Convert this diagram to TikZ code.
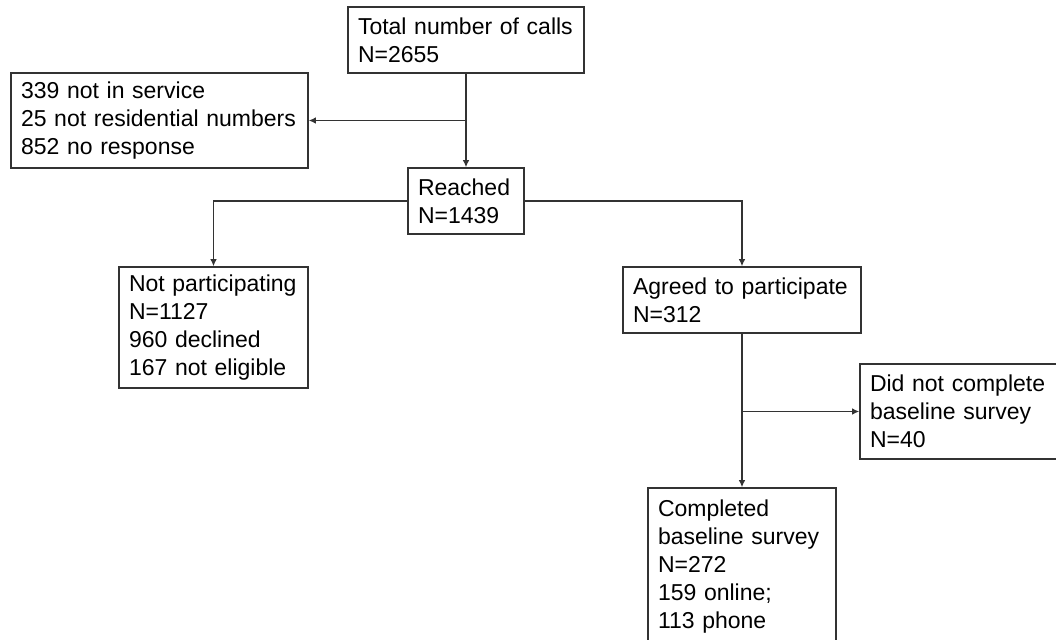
\documentclass[tikz,border=0pt]{standalone}
\usepackage{fontspec}
\setmainfont{Liberation Sans}
\usetikzlibrary{arrows.meta}
\definecolor{boxline}{HTML}{333333}

\begin{document}
\begin{tikzpicture}[x=0.5pt, y=-0.5pt,
  box/.style={draw=boxline, line width=0.75pt, rectangle, align=left,
    inner xsep=5pt, inner ysep=0pt, text=black,
    font=\fontsize{11.5pt}{14pt}\selectfont},
  link/.style={draw=boxline, line width=0.75pt, -{Latex[length=3.6pt,width=3.4pt]}}]
\useasboundingbox (0,0) rectangle (1056,639);
\clip (0,0) rectangle (1056,639);

% boxes
\node[box, text width=108pt, minimum height=33pt] (total) at (466,40)
  {Total number of calls\\N=2655};
\node[box, text width=138.5pt, minimum height=47.5pt] (losses) at (159.5,120.5)
  {339 not in service\\25 not residential numbers\\852 no response};
\node[box, text width=48pt, minimum height=33pt] (reached) at (466,201)
  {Reached\\N=1439};
\node[box, text width=84.5pt, minimum height=60.5pt] (notpart) at (213.5,327.5)
  {Not participating\\N=1127\\960 declined\\167 not eligible};
\node[box, text width=109pt, minimum height=33pt] (agreed) at (742,300)
  {Agreed to participate\\N=312};
\node[box, text width=96pt, minimum height=47.5pt] (dnc) at (966,411.5)
  {Did not complete\\baseline survey\\N=40};
\node[box, text width=84pt, minimum height=79pt] (completed) at (742,567)
  {Completed\\baseline survey\\N=272\\159 online;\\113 phone};

% branch points
\coordinate (split1) at (total.south |- losses.east);
\coordinate (split2) at (agreed.south |- dnc.west);

% connectors
\draw[link] (total) -- (reached);
\draw[link] (split1) -- (losses);
\draw[link] (reached.west) -| (notpart.north);
\draw[link] (reached.east) -| (agreed.north);
\draw[link] (agreed) -- (completed);
\draw[link] (split2) -- (dnc);
\end{tikzpicture}
\end{document}
